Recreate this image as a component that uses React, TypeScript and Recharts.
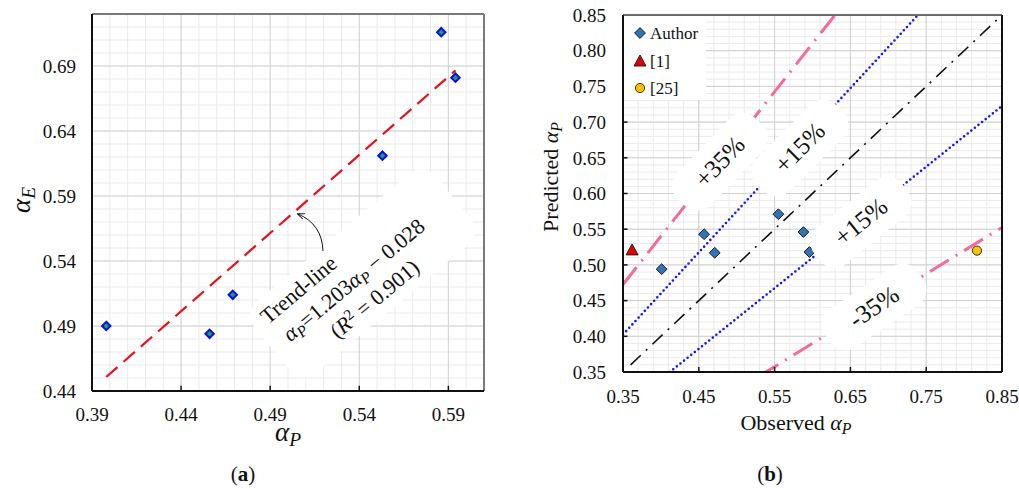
import React from 'react';
import { ScatterChart, Scatter, XAxis, YAxis, ReferenceLine } from 'recharts';

const SERIF = '"Liberation Serif", "DejaVu Serif", serif';

/* ---------------------------------------------------------------------------
   Panel (a): alpha_E against alpha_P with linear trend
   --------------------------------------------------------------------------- */

const aAlphaP = [0.398, 0.456, 0.469, 0.553, 0.586, 0.594];
const aAlphaE = [0.49, 0.484, 0.514, 0.621, 0.716, 0.681];
const trendSlope = 1.203;
const trendIntercept = -0.028;
const aXTicks = [0.39, 0.44, 0.49, 0.54, 0.59];
const aYTicks = [0.44, 0.49, 0.54, 0.59, 0.64, 0.69];
const aXDomain: [number, number] = [0.39, 0.61];
const aYDomain: [number, number] = [0.44, 0.73];

/* ---------------------------------------------------------------------------
   Panel (b): predicted against observed alpha_P
   --------------------------------------------------------------------------- */

const authorObserved = [0.401, 0.457, 0.471, 0.555, 0.588, 0.596];
const authorPredicted = [0.494, 0.543, 0.517, 0.571, 0.546, 0.518];
const ref1Observed = [0.362];
const ref1Predicted = [0.521];
const ref25Observed = [0.817];
const ref25Predicted = [0.52];
const bXTicks = [0.35, 0.45, 0.55, 0.65, 0.75, 0.85];
const bYTicks = [0.35, 0.4, 0.45, 0.5, 0.55, 0.6, 0.65, 0.7, 0.75, 0.8, 0.85];
const bDomain: [number, number] = [0.35, 0.85];

// error bands: predicted = ratio * observed
const bands = [
  { ratio: 1.35, from: 0.35, kind: 'pink' },
  { ratio: 1.15, from: 0.35, kind: 'blue' },
  { ratio: 1.0, from: 0.36, kind: 'black' },
  { ratio: 0.85, from: 0.35, kind: 'blue' },
  { ratio: 0.65, from: 0.35, kind: 'pink' },
];

const bandStyle: Record<string, { stroke: string; strokeWidth: number; strokeDasharray: string; strokeLinecap?: 'round' | 'butt' }> = {
  pink: { stroke: '#F7699C', strokeWidth: 3, strokeDasharray: '22 8 2 8' },
  blue: { stroke: '#1414FF', strokeWidth: 2.6, strokeDasharray: '0 4.6', strokeLinecap: 'round' },
  black: { stroke: '#111', strokeWidth: 1.6, strokeDasharray: '14 7 2 7' },
};

/* ---------------------------------------------------------------------------
   Helpers
   --------------------------------------------------------------------------- */

function steps(from: number, to: number, step: number): number[] {
  const out: number[] = [];
  const n = Math.round((to - from) / step);
  for (let i = 0; i <= n; i++) out.push(+(from + i * step).toFixed(3));
  return out;
}

const zip = (xs: number[], ys: number[]) => xs.map((x, i) => ({ x, y: ys[i] }));

const tickStyle = { fill: '#111', fontSize: 19, fontFamily: SERIF };

function gridLines(xs: number[], ys: number[], stroke: string, prefix: string) {
  return [
    ...xs.map(v => <ReferenceLine key={`${prefix}x${v}`} x={v} stroke={stroke} strokeWidth={1} />),
    ...ys.map(v => <ReferenceLine key={`${prefix}y${v}`} y={v} stroke={stroke} strokeWidth={1} />),
  ];
}

/* markers */
const GreenDiamond = (p: any) => {
  const { cx, cy } = p;
  const r = 4.2;
  return <path d={`M${cx},${cy - r}L${cx + r},${cy}L${cx},${cy + r}L${cx - r},${cy}Z`} fill="#14A84A" stroke="#0A0AF5" strokeWidth={2} />;
};
const BlueDiamond = (p: any) => {
  const { cx, cy } = p;
  const r = 5.4;
  return <path d={`M${cx},${cy - r}L${cx + r},${cy}L${cx},${cy + r}L${cx - r},${cy}Z`} fill="#2E75B6" stroke="#1b1b1b" strokeWidth={1} />;
};
const RedTriangle = (p: any) => {
  const { cx, cy } = p;
  return <path d={`M${cx},${cy - 6}L${cx + 6},${cy + 5}L${cx - 6},${cy + 5}Z`} fill="#E00000" stroke="#222" strokeWidth={1} />;
};
const GoldCircle = (p: any) => <circle cx={p.cx} cy={p.cy} r={4.6} fill="#FFC000" stroke="#333" strokeWidth={1} />;

/* ---------------------------------------------------------------------------
   Charts
   --------------------------------------------------------------------------- */

function TrendChart() {
  const x0 = Math.min(...aAlphaP);
  const x1 = Math.max(...aAlphaP);
  const trend = [
    { x: x0, y: trendSlope * x0 + trendIntercept },
    { x: x1, y: trendSlope * x1 + trendIntercept },
  ];
  const tickLen = 0.004;
  return (
    <ScatterChart width={500} height={489} margin={{ top: 14, right: 16, bottom: 58, left: 12 }}>
      <XAxis type="number" dataKey="x" domain={aXDomain} ticks={aXTicks} allowDataOverflow
        tickFormatter={(v: number) => v.toFixed(2)} axisLine={false} tickLine={false}
        tick={tickStyle} tickMargin={11} height={40} />
      <YAxis type="number" dataKey="y" domain={aYDomain} ticks={aYTicks} allowDataOverflow
        tickFormatter={(v: number) => v.toFixed(2)} axisLine={false} tickLine={false}
        tick={tickStyle} tickMargin={10} width={80} />
      {gridLines(steps(0.39, 0.61, 0.01), steps(0.44, 0.73, 0.01), '#EBEBEB', 'am')}
      {gridLines(aXTicks, aYTicks, '#D4D4D4', 'aM')}
      {aXTicks.map(v => (
        <ReferenceLine key={`at${v}`} segment={[{ x: v, y: aYDomain[0] }, { x: v, y: aYDomain[0] + tickLen }]} stroke="#111" strokeWidth={1.5} />
      ))}
      <ReferenceLine segment={trend} stroke="#E8101A" strokeWidth={2.2} strokeDasharray="15 8" />
      <Scatter data={zip(aAlphaP, aAlphaE)} shape={GreenDiamond} isAnimationActive={false} />
      <ReferenceLine y={aYDomain[1]} stroke="#7a7a7a" strokeWidth={2} />
      <ReferenceLine x={aXDomain[1]} stroke="#7a7a7a" strokeWidth={2} />
      <ReferenceLine y={aYDomain[0]} stroke="#111" strokeWidth={2} />
      <ReferenceLine x={aXDomain[0]} stroke="#111" strokeWidth={2} />
    </ScatterChart>
  );
}

function ComparisonChart() {
  return (
    <ScatterChart width={509} height={489} margin={{ top: 15, right: 17, bottom: 77, left: 33 }}>
      <XAxis type="number" dataKey="x" domain={bDomain} ticks={bXTicks} allowDataOverflow
        tickFormatter={(v: number) => v.toFixed(2)} axisLine={false} tickLine={false}
        tick={tickStyle} tickMargin={12} height={40} />
      <YAxis type="number" dataKey="y" domain={bDomain} ticks={bYTicks} allowDataOverflow
        tickFormatter={(v: number) => v.toFixed(2)} axisLine={false} tickLine={false}
        tick={tickStyle} tickMargin={11} width={80} />
      {gridLines(steps(0.35, 0.85, 0.02), steps(0.35, 0.85, 0.01), '#EBEBEB', 'bm')}
      {gridLines(bXTicks, bYTicks, '#D0D0D0', 'bM')}
      {bands.map((b, i) => (
        <ReferenceLine key={`band${i}`} ifOverflow="hidden"
          segment={[{ x: b.from, y: b.ratio * b.from }, { x: bDomain[1], y: b.ratio * bDomain[1] }]}
          {...bandStyle[b.kind]} />
      ))}
      {bXTicks.map(v => (
        <ReferenceLine key={`bt${v}`} segment={[{ x: v, y: bDomain[0] }, { x: v, y: bDomain[0] + 0.007 }]} stroke="#111" strokeWidth={1.5} />
      ))}
      {bYTicks.map(v => (
        <ReferenceLine key={`bl${v}`} segment={[{ x: bDomain[0], y: v }, { x: bDomain[0] + 0.006, y: v }]} stroke="#111" strokeWidth={1.5} />
      ))}
      <Scatter data={zip(authorObserved, authorPredicted)} shape={BlueDiamond} isAnimationActive={false} />
      <Scatter data={zip(ref1Observed, ref1Predicted)} shape={RedTriangle} isAnimationActive={false} />
      <Scatter data={zip(ref25Observed, ref25Predicted)} shape={GoldCircle} isAnimationActive={false} />
      <ReferenceLine y={bDomain[1]} stroke="#6a6a6a" strokeWidth={2} />
      <ReferenceLine x={bDomain[1]} stroke="#111" strokeWidth={2} />
      <ReferenceLine y={bDomain[0]} stroke="#111" strokeWidth={2} />
      <ReferenceLine x={bDomain[0]} stroke="#111" strokeWidth={2} />
    </ScatterChart>
  );
}

/* ---------------------------------------------------------------------------
   Text layer: axis titles, panel letters, annotations and legend
   --------------------------------------------------------------------------- */

// italic alpha with a lowered subscript letter
const Alpha = ({ sub }: { sub: string }) => (
  <>
    <tspan fontStyle="italic">α</tspan>
    <tspan fontStyle="italic" fontSize="72%" baselineShift="-28%">{sub}</tspan>
  </>
);

function BandLabel({ cx, cy, angle, text }: { cx: number; cy: number; angle: number; text: string }) {
  return (
    <g transform={`translate(${cx},${cy}) rotate(${angle})`}>
      <rect x={-56} y={-23} width={112} height={46} rx={18} fill="#fff" />
      <text textAnchor="middle" y={8} fontSize={25}>{text}</text>
    </g>
  );
}

function Overlay() {
  return (
    <svg width={1019} height={489} style={{ position: 'absolute', left: 0, top: 0, pointerEvents: 'none' }}
      fontFamily={SERIF} fill="#111">
      <defs>
        <marker id="arrowHead" viewBox="0 0 10 10" refX="9" refY="5" markerWidth="7" markerHeight="7" orient="auto">
          <path d="M0,1L10,5L0,9" fill="none" stroke="#111" strokeWidth={1.4} />
        </marker>
      </defs>

      {/* panel (a) */}
      <text transform="translate(30,200) rotate(-90)" textAnchor="middle" fontSize={27}><Alpha sub="E" /></text>
      <text x={288} y={441} textAnchor="middle" fontSize={27}><Alpha sub="P" /></text>
      <text x={243} y={481} textAnchor="middle" fontSize={21}>(<tspan fontWeight="bold">a</tspan>)</text>

      <g transform="translate(268,325) rotate(-40)" fontSize={22}>
        <rect x={-12} y={-25} width={236} height={92} rx={18} fill="#fff" />
        <text x={0} y={0}>Trend-line</text>
        <text x={6} y={28}><Alpha sub="P" />=1.203<Alpha sub="P" /> − 0.028</text>
        <text x={44} y={56}>(<tspan fontStyle="italic">R</tspan><tspan fontSize="70%" baselineShift="45%">2</tspan> = 0.901)</text>
      </g>
      <path d="M323,251 Q322,224 298,214" fill="none" stroke="#111" strokeWidth={1} markerEnd="url(#arrowHead)" />

      {/* panel (b) */}
      <text transform="translate(558,177) rotate(-90)" textAnchor="middle" fontSize={22}>Predicted <Alpha sub="P" /></text>
      <text x={796} y={430} textAnchor="middle" fontSize={22}>Observed <Alpha sub="P" /></text>
      <text x={770} y={481} textAnchor="middle" fontSize={21}>(<tspan fontWeight="bold">b</tspan>)</text>

      <BandLabel cx={720} cy={162} angle={-46} text="+35%" />
      <BandLabel cx={800} cy={148} angle={-45} text="+15%" />
      <BandLabel cx={861} cy={222} angle={-39} text="+15%" />
      <BandLabel cx={874} cy={307} angle={-34} text="-35%" />

      <rect x={624} y={16} width={82} height={84} fill="#fff" />
      <BlueDiamond cx={640} cy={33} />
      <text x={650} y={39} fontSize={17}>Author</text>
      <RedTriangle cx={640} cy={61} />
      <text x={650} y={67} fontSize={17}>[1]</text>
      <GoldCircle cx={640} cy={88} />
      <text x={650} y={94} fontSize={17}>[25]</text>
    </svg>
  );
}

export default function App() {
  return (
    <div style={{ position: 'fixed', left: 0, top: 0, width: 1019, height: 489, background: '#fff', fontFamily: SERIF }}>
      <div style={{ position: 'absolute', left: 0, top: 0 }}>
        <TrendChart />
      </div>
      <div style={{ position: 'absolute', left: 510, top: 0 }}>
        <ComparisonChart />
      </div>
      <Overlay />
    </div>
  );
}
